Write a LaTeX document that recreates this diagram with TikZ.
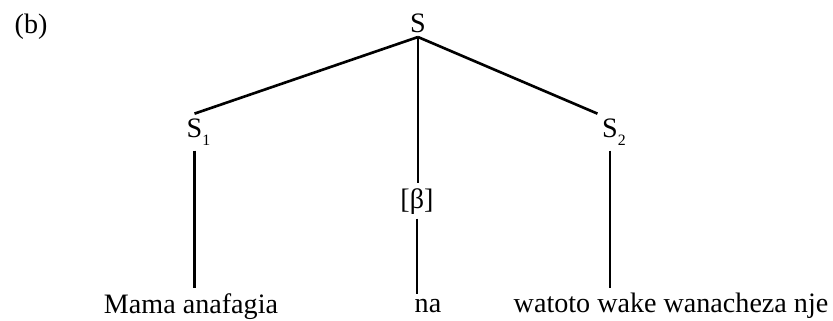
\documentclass[tikz,border=0pt]{standalone}
\usepackage{fontspec}
\setmainfont{Liberation Serif}
\usepackage{tikz}
\usetikzlibrary{positioning}
\newcommand{\indice}[1]{\rlap{\raisebox{-5pt}{\fontsize{9}{10}\selectfont #1}}}
\tikzset{
  mot/.style={inner sep=2.5pt, anchor=base, font=\fontsize{16}{19}\selectfont},
  branche/.style={line width=1.5pt}
}
\begin{document}
\begin{tikzpicture}
        \useasboundingbox (0,0) rectangle (16.66,6.4);
        % Etiquette
        \node[mot, anchor=base west] (lettre) at (0.2,5.74) {(b)};

        % Noeuds de l'arbre
        \node[mot] (S) at (8.36,5.76) {S};
        \node[mot] (S1) at (3.89,3.66) {S\indice{1}};
        \node[mot] (S2) at (12.2,3.66) {S\indice{2}};
        \node[mot] (beta) at (8.34,2.24) {[β]};

        % Les mots
        \node[mot] (mama) at (3.82,0.14) {Mama anafagia};
        \node[mot] (na) at (8.56,0.16) {na};
        \node[mot] (watoto) at (13.42,0.16) {watoto wake wanacheza nje};

        % Branches
        \draw[branche] (S.south) -- (S1.north);
        \draw[branche] (S.south) -- (S2.north west);
        \draw[branche] (S.south) -- (S.south |- beta.north);
        \draw[branche] (S1.south) -- (S1.south |- mama.north);
        \draw[branche] (beta.south) -- (beta.south |- na.north);
        \draw[branche] (S2.south) -- (S2.south |- watoto.north);
    \end{tikzpicture}
\end{document}
